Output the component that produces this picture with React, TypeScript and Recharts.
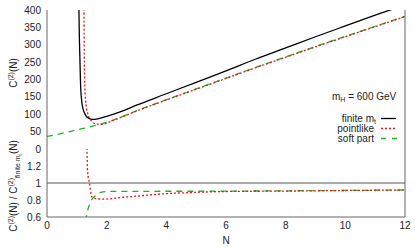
import { LineChart, Line, XAxis, YAxis, ReferenceLine, Label } from 'recharts';

// upper panel: C^(2)(N), m_H = 600 GeV
const finiteN = [1.05, 1.07, 1.085, 1.1, 1.13, 1.18, 1.24, 1.33, 1.5, 1.7, 2, 2.45, 3, 4, 5, 6, 7, 8, 9, 10, 11, 12];
const finiteC = [560, 400, 320, 270, 175, 127, 107, 93, 85.5, 87, 94, 107, 126, 159, 192, 225, 259, 291, 323, 354, 385, 415];

const pointN = [1.23, 1.24, 1.25, 1.27, 1.31, 1.38, 1.5, 1.65, 1.85, 2.1, 2.45, 3, 4, 5, 6, 7, 8, 9, 10, 11, 12];
const pointC = [600, 400, 270, 175, 127, 98, 80, 72, 71, 78, 90, 109, 141, 172, 203, 234, 264, 294, 323, 352, 381];

const softN = [0, 0.5, 1, 1.5, 2, 2.45, 3, 4, 5, 6, 7, 8, 9, 10, 11, 12];
const softC = [36, 45, 55, 65, 77, 91, 110, 142, 173, 204, 235, 265, 295, 324, 353, 382];

// lower panel: ratio to finite m_t
const pointRatioN = [1.32, 1.34, 1.36, 1.42, 1.5, 1.6, 1.9, 2.5, 3, 4, 5, 6, 8, 10, 12];
const pointRatio = [1.6, 1.38, 1.14, 1.0, 0.84, 0.82, 0.81, 0.83, 0.845, 0.875, 0.89, 0.9, 0.905, 0.912, 0.918];

const softRatioN = [1.3, 1.32, 1.44, 1.62, 1.8, 2, 3, 6, 8, 10, 12];
const softRatio = [0.55, 0.6, 0.76, 0.85, 0.89, 0.9, 0.902, 0.904, 0.908, 0.912, 0.918];

const xTicks = [0, 2, 4, 6, 8, 10, 12];
const xMinorTicks = [0, 1, 2, 3, 4, 5, 6, 7, 8, 9, 10, 11, 12];
const topTicks = [0, 50, 100, 150, 200, 250, 300, 350, 400];
const topMinorTicks = [0, 25, 50, 75, 100, 125, 150, 175, 200, 225, 250, 275, 300, 325, 350, 375, 400];
const ratioTicks = [0.6, 0.8, 1, 1.2];
const ratioMinorTicks = [0.6, 0.7, 0.8, 0.9, 1, 1.1, 1.2, 1.3, 1.4];

const zip = (xs: number[], ys: number[]) => xs.map((n, i) => ({ n, v: ys[i] }));

const FONT = '"Liberation Sans", Arial, Helvetica, sans-serif';
const FRAME = '#666';
const RED = '#e8141a';
const GREEN = '#1fb31f';
const tickStyle = { fontSize: 10, fill: '#222', fontFamily: FONT };

export default function App() {
  return (
    <div style={{ position: 'absolute', left: 0, top: 0, width: 415, height: 249, background: '#fff', fontFamily: FONT }}>
      <style>{'.recharts-surface{overflow:visible}'}</style>
      {/* upper panel */}
      <div style={{ position: 'absolute', left: 0, top: 0 }}>
        <LineChart width={415} height={149} margin={{ top: 10, right: 10, bottom: 0, left: 0 }}>
          <XAxis xAxisId="x" type="number" dataKey="n" domain={[0, 12]} ticks={xMinorTicks}
            mirror tick={false} tickSize={3} height={0}
            axisLine={{ stroke: '#000', strokeWidth: 1.2 }} tickLine={{ stroke: '#000' }} />
          <XAxis xAxisId="xt" orientation="top" type="number" dataKey="n" domain={[0, 12]} ticks={xMinorTicks}
            mirror tick={false} tickSize={3} height={0}
            axisLine={{ stroke: FRAME }} tickLine={{ stroke: FRAME }} />
          <YAxis yAxisId="y" type="number" domain={[0, 400]} ticks={topTicks} interval={0} allowDataOverflow width={47}
            tick={tickStyle} tickSize={0} tickMargin={6} tickLine={false} axisLine={{ stroke: FRAME }} />
          <YAxis yAxisId="ym" type="number" domain={[0, 400]} ticks={topMinorTicks} mirror tick={false}
            tickSize={2} axisLine={false} tickLine={{ stroke: FRAME }} />
          <YAxis yAxisId="yr" orientation="right" type="number" domain={[0, 400]} ticks={topMinorTicks} mirror tick={false}
            tickSize={2} axisLine={{ stroke: FRAME }} tickLine={{ stroke: FRAME }} />
          <Line xAxisId="x" yAxisId="y" data={zip(softN, softC)} dataKey="v" type="monotone"
            stroke={GREEN} strokeWidth={1.3} strokeDasharray="6 5" dot={false} isAnimationActive={false} />
          <Line xAxisId="x" yAxisId="y" data={zip(pointN, pointC)} dataKey="v" type="monotone"
            stroke={RED} strokeWidth={1.3} strokeDasharray="2 2" dot={false} isAnimationActive={false} />
          <Line xAxisId="x" yAxisId="y" data={zip(finiteN, finiteC)} dataKey="v" type="monotone"
            stroke="#000" strokeWidth={1.3} dot={false} isAnimationActive={false} />
        </LineChart>
      </div>

      {/* lower panel */}
      <div style={{ position: 'absolute', left: 0, top: 149 }}>
        <LineChart width={415} height={100} margin={{ top: 0, right: 10, bottom: 0, left: 0 }}>
          <XAxis xAxisId="x" type="number" dataKey="n" domain={[0, 12]} ticks={xTicks} interval={0} height={32}
            tick={tickStyle} tickSize={0} tickMargin={5} tickLine={false} axisLine={{ stroke: FRAME }}>
            <Label value="N" position="insideBottom" offset={5} style={{ fontSize: 10, fill: '#222', fontFamily: FONT }} />
          </XAxis>
          <XAxis xAxisId="xm" type="number" dataKey="n" domain={[0, 12]} ticks={xMinorTicks} mirror tick={false}
            tickSize={3} height={0} axisLine={false} tickLine={{ stroke: FRAME }} />
          <XAxis xAxisId="xt" orientation="top" type="number" dataKey="n" domain={[0, 12]} ticks={xMinorTicks} mirror tick={false}
            tickSize={3} height={0} axisLine={false} tickLine={{ stroke: '#000' }} />
          <YAxis yAxisId="y" type="number" domain={[0.6, 1.4]} ticks={ratioTicks} interval={0} allowDataOverflow width={47}
            tick={tickStyle} tickSize={0} tickMargin={6} tickLine={false} axisLine={{ stroke: FRAME }} />
          <YAxis yAxisId="ym" type="number" domain={[0.6, 1.4]} ticks={ratioMinorTicks} mirror tick={false}
            tickSize={2} axisLine={false} tickLine={{ stroke: FRAME }} />
          <YAxis yAxisId="yr" orientation="right" type="number" domain={[0.6, 1.4]} ticks={ratioMinorTicks} mirror tick={false}
            tickSize={2} axisLine={{ stroke: FRAME }} tickLine={{ stroke: FRAME }} />
          <ReferenceLine xAxisId="x" yAxisId="y" y={1} stroke="#aaa" strokeWidth={2.2} />
          <Line xAxisId="x" yAxisId="y" data={zip(softRatioN, softRatio)} dataKey="v" type="monotone"
            stroke={GREEN} strokeWidth={1.3} strokeDasharray="6 5" dot={false} isAnimationActive={false} />
          <Line xAxisId="x" yAxisId="y" data={zip(pointRatioN, pointRatio)} dataKey="v" type="monotone"
            stroke={RED} strokeWidth={1.3} strokeDasharray="2 2" dot={false} isAnimationActive={false} />
        </LineChart>
      </div>

      {/* axis titles and key */}
      <svg width={415} height={249} style={{ position: 'absolute', left: 0, top: 0, pointerEvents: 'none' }}>
        <g fontFamily={FONT} fontSize={10} fill="#222">
          <text transform="translate(17,73) rotate(-90)" textAnchor="middle">
            C<tspan dy={-4} fontSize={7}>(2)</tspan><tspan dy={4}>(N)</tspan>
          </text>
          <text transform="translate(17,186) rotate(-90)" textAnchor="middle">
            C<tspan dy={-4} fontSize={7}>(2)</tspan><tspan dy={4}>(N) / C</tspan><tspan dy={-4} fontSize={7}>(2)</tspan>
            <tspan dy={7} fontSize={7}>finite m</tspan><tspan dy={1.5} fontSize={5}>t</tspan><tspan dy={-4.5}>(N)</tspan>
          </text>
          <text x={332} y={99.5}>m<tspan dy={2} fontSize={7}>H</tspan><tspan dy={-2}> = 600 GeV</tspan></text>
          <text x={376} y={121.5} textAnchor="end">finite m<tspan dy={2} fontSize={7}>t</tspan></text>
          <text x={374} y={131.5} textAnchor="end">pointlike</text>
          <text x={374} y={141.5} textAnchor="end">soft part</text>
        </g>
        <line x1={381} x2={396} y1={118.5} y2={118.5} stroke="#000" strokeWidth={1.3} />
        <line x1={381} x2={396} y1={128.5} y2={128.5} stroke={RED} strokeWidth={1.3} strokeDasharray="2 2" />
        <line x1={381} x2={397} y1={138.5} y2={138.5} stroke={GREEN} strokeWidth={1.3} strokeDasharray="5 6" />
      </svg>
    </div>
  );
}
